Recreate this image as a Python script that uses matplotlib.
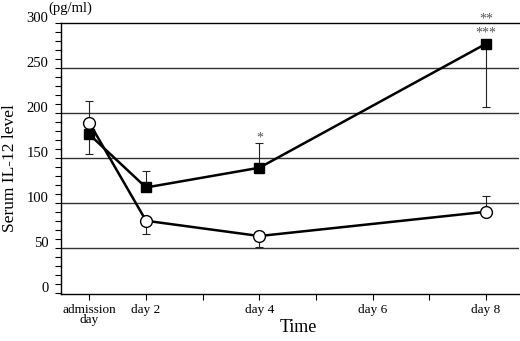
import matplotlib
matplotlib.use("Agg")
import matplotlib.pyplot as plt
import matplotlib.transforms as mtransforms
from matplotlib.ticker import MultipleLocator

days = [1, 2, 4, 8]
xtick_pos = [1, 2, 4, 6, 8]
xtick_labels = ["admission\nday", "day 2", "day 4", "day 6", "day 8"]

circle_vals = [189, 80, 63, 90]
circle_err_low = [0, 15, 12, 0]
circle_err_high = [24, 0, 0, 17]

square_vals = [176, 117, 139, 277]
square_err_low = [22, 0, 0, 71]
square_err_high = [0, 18, 27, 0]

annotations = [(4, 172, "*"), (8, 304, "**"), (8, 289, "***")]

plt.rcParams["font.family"] = ["Liberation Serif", "DejaVu Serif"]

fig = plt.figure(figsize=(5.2, 3.41), dpi=100)
ax = fig.add_axes([61 / 520, 47 / 341, 458 / 520, 271 / 341])

ax.set_xlim(0.5, 8.58)
ax.set_ylim(-1.5, 300)

for gy in [50, 100, 150, 200, 250]:
    ax.axhline(gy, color="#333333", lw=1.0, zorder=1)

ax.errorbar(days, square_vals, yerr=[square_err_low, square_err_high], fmt="none",
            ecolor="#222222", elinewidth=0.8, capsize=3, capthick=0.8, zorder=2)
ax.errorbar(days, circle_vals, yerr=[circle_err_low, circle_err_high], fmt="none",
            ecolor="#222222", elinewidth=0.8, capsize=3, capthick=0.8, zorder=2)

ax.plot(days, circle_vals, color="black", lw=1.8, marker="o", markersize=8.5,
        markerfacecolor="white", markeredgecolor="black", markeredgewidth=1.0, zorder=3)
ax.plot(days, square_vals, color="black", lw=1.8, marker="s", markersize=7,
        markerfacecolor="black", markeredgecolor="black", zorder=4)

for x, y, t in annotations:
    ax.text(x, y, t, ha="center", va="center", fontsize=10, color="#555555",
            clip_on=False)

ax.spines["right"].set_visible(False)
for s in ["left", "bottom", "top"]:
    ax.spines[s].set_linewidth(1.0)

ax.set_xticks(range(1, 9))
ax.set_xticklabels([xtick_labels[xtick_pos.index(d)] if d in xtick_pos else "" for d in range(1, 9)],
                   fontsize=9.5, linespacing=0.8)
ax.tick_params(axis="x", direction="out", length=4, width=0.8, pad=3)

ax.yaxis.set_major_locator(MultipleLocator(50))
ax.yaxis.set_minor_locator(MultipleLocator(10))
ax.set_yticks([0, 50, 100, 150, 200, 250, 300])
ax.set_yticklabels(["0", "50", "100", "150", "200", "250", "300"], fontsize=10.5)
ax.tick_params(axis="y", which="major", direction="out", length=4, width=0.8, pad=5)
ax.tick_params(axis="y", which="minor", direction="out", length=4, width=0.8)

offset = mtransforms.ScaledTranslation(0, 6 / 100, fig.dpi_scale_trans)
for lab in ax.get_yticklabels():
    lab.set_transform(lab.get_transform() + offset)

fig.text(298 / 520, 1 - 327 / 341, "Time", fontsize=13, ha="center", va="center")
fig.text(10 / 520, 1 - 168 / 341, "Serum IL-12 level", fontsize=12.5, ha="center",
         va="center", rotation=90)
fig.text(48 / 520, 1 - 8 / 341, "(pg/ml)", fontsize=10.5, va="center", ha="left")

fig.savefig("out.png", dpi=100)
